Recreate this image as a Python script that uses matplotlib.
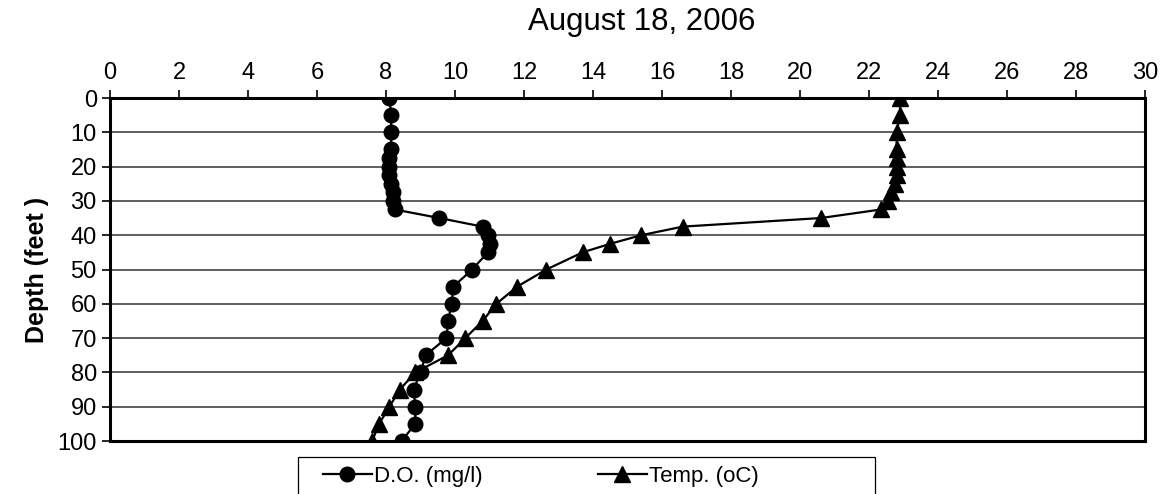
import matplotlib
matplotlib.use("Agg")
import matplotlib.pyplot as plt
from matplotlib.patches import Rectangle

plt.rcParams['font.family'] = ['Liberation Sans', 'DejaVu Sans']

depth = [0, 5, 10, 15, 17.5, 20, 22.5, 25, 27.5, 30, 32.5, 35, 37.5, 40, 42.5,
         45, 50, 55, 60, 65, 70, 75, 80, 85, 90, 95, 100]
dissolved_oxygen = [8.1, 8.15, 8.15, 8.15, 8.1, 8.1, 8.1, 8.15, 8.2, 8.2, 8.25,
                    9.55, 10.8, 10.95, 11.0, 10.95, 10.5, 9.95, 9.9, 9.8, 9.75,
                    9.15, 9.0, 8.8, 8.85, 8.85, 8.45]
temperature = [22.9, 22.9, 22.8, 22.8, 22.8, 22.8, 22.8, 22.75, 22.65, 22.55,
               22.35, 20.6, 16.6, 15.4, 14.5, 13.7, 12.65, 11.8, 11.2, 10.8,
               10.3, 9.8, 8.85, 8.4, 8.1, 7.8, 7.6]
x_ticks = list(range(0, 31, 2))
y_ticks = list(range(0, 101, 10))

W, H = 1161, 494
fig = plt.figure(figsize=(W / 100, H / 100), dpi=100)
ax = fig.add_axes([110 / W, 1 - 441 / H, 1035 / W, 343 / H])

ax.plot(dissolved_oxygen, depth, color='black', lw=1.6, marker='o', ms=10.5,
        label='D.O. (mg/l)', zorder=3)
ax.plot(temperature, depth, color='black', lw=1.6, marker='^', ms=11,
        label='Temp. (oC)', zorder=3)

ax.set_xlim(0, 30)
ax.set_ylim(100, 0)
ax.set_xticks(x_ticks)
ax.set_yticks(y_ticks)
ax.xaxis.tick_top()
ax.tick_params(axis='both', labelsize=17, length=6, width=1.2, direction='out',
               color='black')
ax.tick_params(axis='x', pad=4)
ax.yaxis.grid(True, color='#333333', lw=1.1)
ax.set_axisbelow(True)
for sp in ax.spines.values():
    sp.set_linewidth(2.2)
    sp.set_color('black')

ax.set_ylabel('Depth (feet )', fontsize=18, fontweight='bold', labelpad=6)
fig.text(642 / W, 1 - 22 / H, 'August 18, 2006', fontsize=22.5,
         ha='center', va='center')

# legend box (cut off at the bottom edge, as in the original)
fig.patches.append(Rectangle((298 / W, -0.05), (875 - 298) / W,
                             0.05 + 1 - 457 / H, transform=fig.transFigure,
                             fill=False, edgecolor='black', lw=0.9))
fig.legend(loc='upper left', bbox_to_anchor=(316 / W, 1 - 459 / H),
           ncol=2, fontsize=16, frameon=False, handlelength=2.2,
           handletextpad=0.1, columnspacing=5.2, borderpad=0.3, borderaxespad=0)

fig.savefig('out.png', dpi=100)
